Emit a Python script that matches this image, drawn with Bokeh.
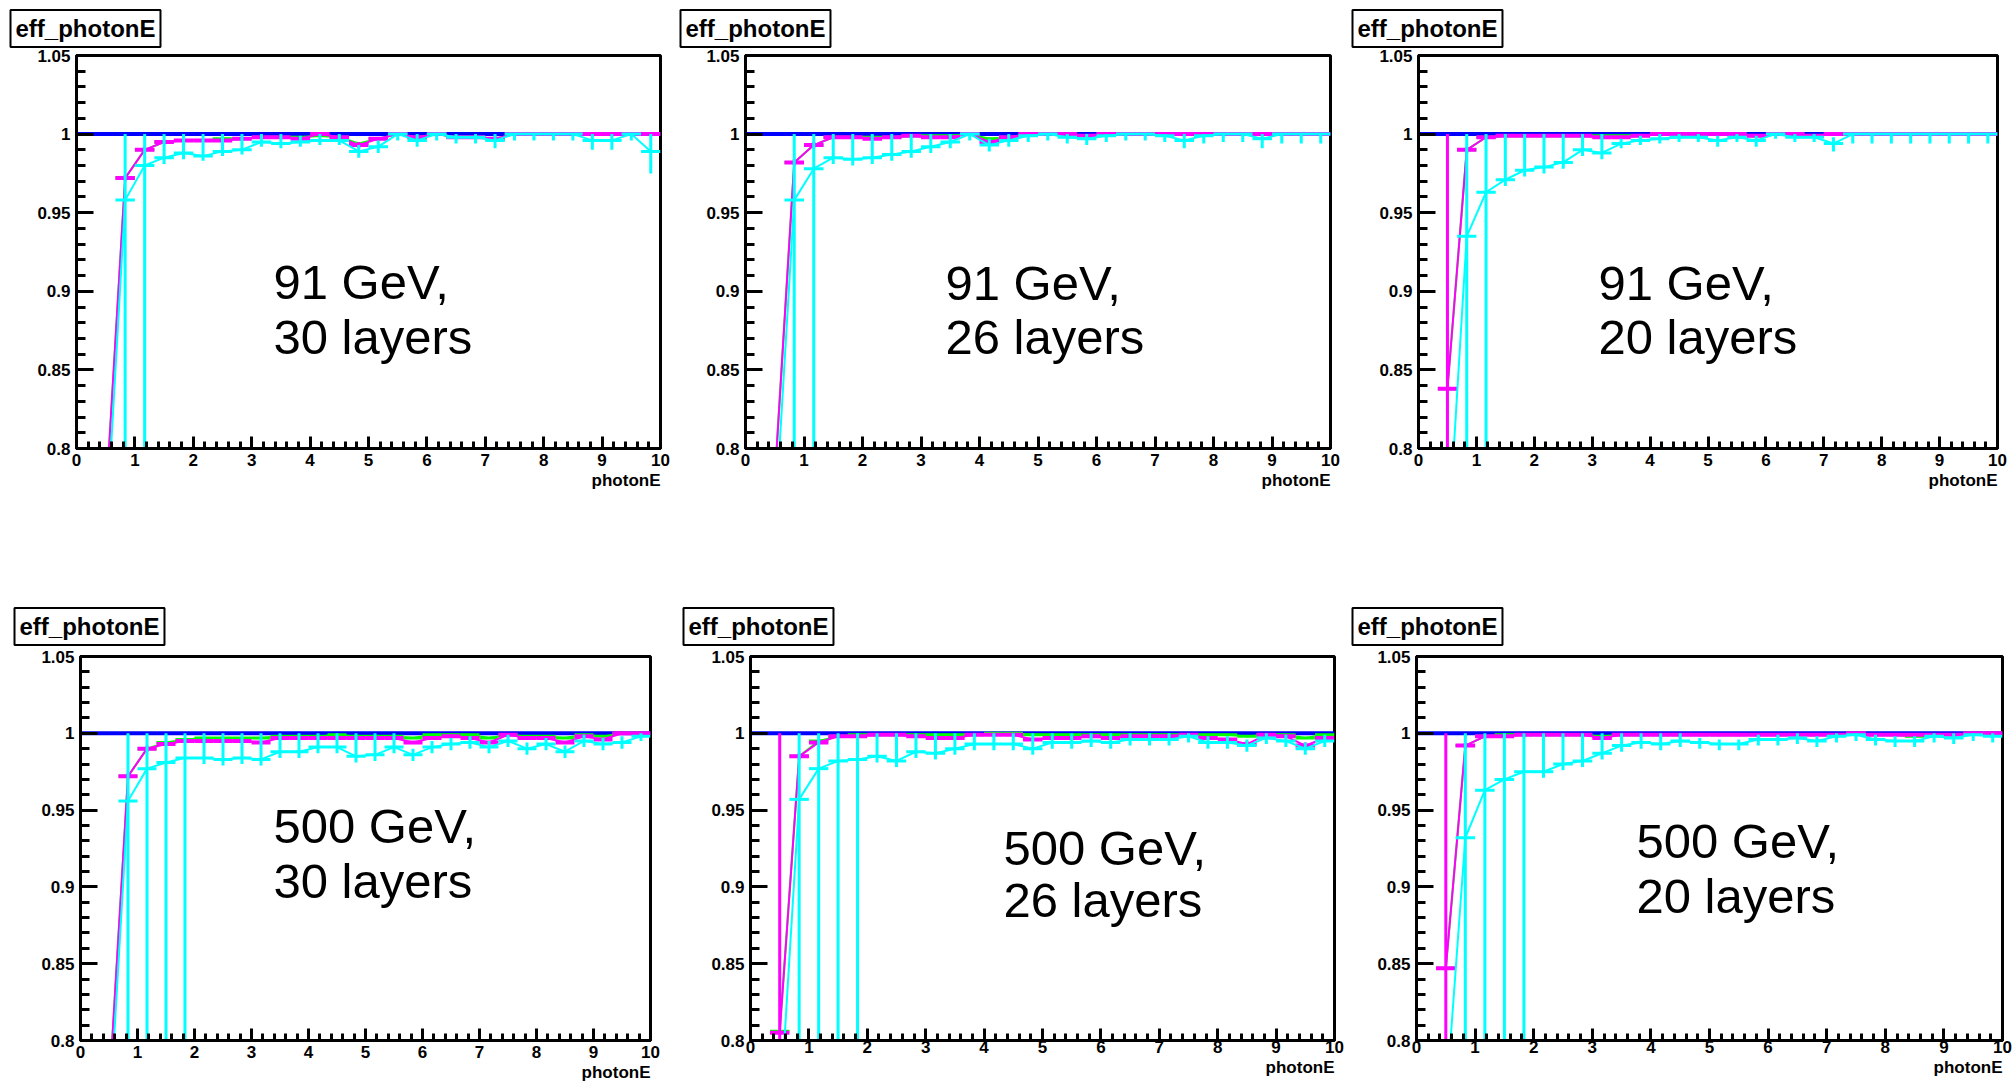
from bokeh.plotting import figure
from bokeh.models import FixedTicker, PrintfTickFormatter, Label, Span, ColumnDataSource, Title
from bokeh.layouts import column, row
from bokeh.embed import file_html
from bokeh.resources import INLINE

# ---------------- data ----------------
BIN_CENTERS = [0.5, 0.833, 1.167, 1.5, 1.833, 2.167, 2.5, 2.833, 3.167, 3.5,
               3.833, 4.167, 4.5, 4.833, 5.167, 5.5, 5.833, 6.167, 6.5, 6.833,
               7.167, 7.5, 7.833, 8.167, 8.5, 8.833, 9.167, 9.5, 9.833]
BIN_HALF_WIDTH = 0.1667
REFERENCE_EFF = 1.0

X_TICKS = [0, 1, 2, 3, 4, 5, 6, 7, 8, 9, 10]
Y_TICKS = [0.8, 0.85, 0.9, 0.95, 1.0, 1.05]

# 91 GeV, 30 layers
MAG_91_30 = [0.765, 0.972, 0.990, 0.995, 0.996, 0.996, 0.996, 0.997, 0.998, 0.998, 0.997, 1.000, 0.998, 0.993, 0.997, 1.000, 0.998, 1.000, 0.998, 0.998, 0.997, 1.000, 1.000, 1.000, 1.000, 1.000, 1.000, 1.000, 1.000]
MAG_ERR_91_30 = [0.0, 0.002, 0.002, 0.001, 0.001, 0.001, 0.001, 0.001, 0.001, 0.001, 0.001, 0.0, 0.001, 0.002, 0.001, 0.0, 0.001, 0.0, 0.001, 0.001, 0.002, 0.0, 0.0, 0.0, 0.0, 0.0, 0.0, 0.0, 0.0]
GRN_91_30 = [0.765, 0.972, 0.990, 0.995, 0.996, 0.996, 0.997, 0.997, 0.998, 0.998, 0.998, 0.999, 0.998, 0.994, 0.997, 1.000, 0.998, 1.000, 0.998, 0.998, 0.997, 1.000, 1.000, 1.000, 1.000, 1.000, 1.000, 1.000, 1.000]
CYA_91_30 = [0.741, 0.958, 0.980, 0.985, 0.988, 0.986, 0.989, 0.990, 0.995, 0.994, 0.995, 0.996, 0.996, 0.989, 0.992, 1.000, 0.996, 1.000, 0.998, 0.998, 0.996, 1.000, 1.000, 1.000, 1.000, 0.996, 0.996, 1.000, 0.989]
CYA_LO_91_30 = [0.0, 0.3, 0.3, 0.004, 0.004, 0.003, 0.003, 0.003, 0.003, 0.003, 0.003, 0.003, 0.003, 0.004, 0.004, 0.004, 0.004, 0.004, 0.004, 0.004, 0.005, 0.004, 0.004, 0.004, 0.004, 0.006, 0.006, 0.004, 0.014]
CYA_HI_91_30 = [0.0, 0.3, 0.3, 0.02, 0.02, 0.02, 0.02, 0.02, 0.02, 0.02, 0.004, 0.004, 0.004, 0.004, 0.004, 0.0, 0.004, 0.0, 0.003, 0.003, 0.004, 0.0, 0.0, 0.0, 0.0, 0.004, 0.004, 0.0, 0.011]

# 91 GeV, 26 layers
MAG_91_26 = [0.780, 0.982, 0.993, 0.998, 0.998, 0.997, 0.998, 0.999, 0.998, 0.998, 1.000, 0.995, 0.998, 1.000, 1.000, 1.000, 0.999, 1.000, 1.000, 1.000, 1.000, 1.000, 1.000, 1.000, 1.000, 1.000, 1.000, 1.000, 1.000]
MAG_ERR_91_26 = [0.0, 0.002, 0.002, 0.001, 0.001, 0.001, 0.001, 0.001, 0.001, 0.001, 0.0, 0.002, 0.001, 0.0, 0.0, 0.0, 0.001, 0.0, 0.0, 0.0, 0.0, 0.0, 0.0, 0.0, 0.0, 0.0, 0.0, 0.0, 0.0]
GRN_91_26 = [0.780, 0.982, 0.993, 0.998, 0.998, 0.998, 0.998, 0.999, 0.999, 0.999, 1.000, 0.997, 0.998, 1.000, 1.000, 1.000, 0.999, 1.000, 1.000, 1.000, 1.000, 1.000, 1.000, 1.000, 1.000, 1.000, 1.000, 1.000, 1.000]
CYA_91_26 = [0.750, 0.958, 0.978, 0.985, 0.984, 0.985, 0.987, 0.989, 0.992, 0.995, 1.000, 0.993, 0.996, 0.999, 1.000, 0.998, 0.997, 0.999, 1.000, 1.000, 0.999, 0.996, 0.999, 1.000, 1.000, 0.997, 1.000, 1.000, 1.000]
CYA_LO_91_26 = [0.0, 0.3, 0.3, 0.004, 0.004, 0.004, 0.004, 0.004, 0.004, 0.004, 0.004, 0.004, 0.004, 0.004, 0.004, 0.004, 0.004, 0.004, 0.004, 0.004, 0.004, 0.005, 0.005, 0.005, 0.005, 0.006, 0.006, 0.006, 0.006]
CYA_HI_91_26 = [0.0, 0.3, 0.3, 0.02, 0.02, 0.02, 0.02, 0.02, 0.02, 0.02, 0.0, 0.004, 0.004, 0.001, 0.0, 0.002, 0.003, 0.001, 0.0, 0.0, 0.001, 0.004, 0.001, 0.0, 0.0, 0.003, 0.0, 0.0, 0.0]

# 91 GeV, 20 layers
MAG_91_20 = [0.838, 0.990, 0.998, 0.999, 0.999, 0.999, 0.999, 0.999, 0.998, 0.998, 0.999, 1.000, 1.000, 1.000, 1.000, 1.000, 0.999, 1.000, 1.000, 0.999, 1.000, 1.000, 1.000, 1.000, 1.000, 1.000, 1.000, 1.000, 1.000]
MAG_ERR_91_20 = [0.3, 0.002, 0.001, 0.001, 0.001, 0.001, 0.001, 0.001, 0.001, 0.001, 0.001, 0.0, 0.0, 0.0, 0.0, 0.0, 0.001, 0.0, 0.0, 0.001, 0.0, 0.0, 0.0, 0.0, 0.0, 0.0, 0.0, 0.0, 0.0]
GRN_91_20 = [0.838, 0.990, 0.998, 0.999, 0.999, 0.999, 0.999, 0.999, 0.999, 0.999, 0.999, 1.000, 1.000, 1.000, 1.000, 1.000, 0.999, 1.000, 1.000, 0.999, 1.000, 1.000, 1.000, 1.000, 1.000, 1.000, 1.000, 1.000, 1.000]
CYA_91_20 = [0.734, 0.935, 0.963, 0.971, 0.977, 0.979, 0.982, 0.990, 0.988, 0.994, 0.996, 0.997, 0.998, 0.998, 0.996, 0.998, 0.996, 1.000, 0.998, 0.998, 0.994, 1.000, 1.000, 1.000, 1.000, 1.000, 1.000, 1.000, 1.000]
CYA_LO_91_20 = [0.0, 0.3, 0.3, 0.004, 0.004, 0.004, 0.004, 0.004, 0.004, 0.003, 0.003, 0.003, 0.003, 0.003, 0.004, 0.003, 0.004, 0.003, 0.003, 0.003, 0.005, 0.006, 0.006, 0.006, 0.006, 0.006, 0.006, 0.006, 0.006]
CYA_HI_91_20 = [0.0, 0.3, 0.3, 0.03, 0.03, 0.03, 0.03, 0.03, 0.03, 0.003, 0.003, 0.003, 0.002, 0.002, 0.003, 0.002, 0.003, 0.0, 0.002, 0.002, 0.004, 0.0, 0.0, 0.0, 0.0, 0.0, 0.0, 0.0, 0.0]

# 500 GeV, 30 layers
MAG_500_30 = [0.765, 0.972, 0.990, 0.993, 0.995, 0.995, 0.995, 0.995, 0.994, 0.997, 0.997, 0.997, 0.997, 0.997, 0.997, 0.997, 0.994, 0.997, 0.998, 0.997, 0.994, 0.999, 0.997, 0.997, 0.994, 0.998, 0.996, 1.000, 1.000]
MAG_ERR_500_30 = [0.0, 0.002, 0.002, 0.001, 0.001, 0.001, 0.001, 0.001, 0.001, 0.001, 0.001, 0.001, 0.001, 0.001, 0.001, 0.001, 0.001, 0.001, 0.001, 0.001, 0.001, 0.001, 0.001, 0.001, 0.001, 0.001, 0.001, 0.0, 0.0]
GRN_500_30 = [0.765, 0.972, 0.990, 0.994, 0.996, 0.997, 0.997, 0.997, 0.997, 0.998, 0.998, 0.998, 0.999, 0.998, 0.998, 0.998, 0.997, 0.999, 0.999, 0.999, 0.997, 0.999, 0.998, 0.998, 0.997, 0.999, 0.998, 1.000, 1.000]
CYA_500_30 = [0.745, 0.956, 0.977, 0.981, 0.984, 0.984, 0.983, 0.984, 0.983, 0.988, 0.988, 0.991, 0.991, 0.985, 0.986, 0.991, 0.986, 0.991, 0.993, 0.994, 0.991, 0.995, 0.990, 0.993, 0.988, 0.995, 0.993, 0.994, 0.998]
CYA_LO_500_30 = [0.0, 0.3, 0.3, 0.3, 0.3, 0.004, 0.004, 0.004, 0.004, 0.004, 0.004, 0.004, 0.004, 0.004, 0.004, 0.004, 0.004, 0.004, 0.004, 0.004, 0.004, 0.004, 0.004, 0.004, 0.004, 0.004, 0.004, 0.004, 0.003]
CYA_HI_500_30 = [0.0, 0.3, 0.3, 0.3, 0.3, 0.02, 0.02, 0.02, 0.02, 0.02, 0.02, 0.02, 0.02, 0.02, 0.02, 0.02, 0.004, 0.004, 0.004, 0.004, 0.004, 0.004, 0.004, 0.004, 0.004, 0.004, 0.004, 0.004, 0.002]

# 500 GeV, 26 layers
MAG_500_26 = [0.805, 0.985, 0.994, 0.998, 0.998, 0.999, 0.999, 0.998, 0.997, 0.997, 0.999, 0.999, 0.999, 0.996, 0.997, 0.997, 0.998, 0.997, 0.998, 0.998, 0.998, 0.999, 0.997, 0.996, 0.993, 0.999, 0.998, 0.992, 0.997]
MAG_ERR_500_26 = [0.3, 0.002, 0.001, 0.001, 0.001, 0.001, 0.001, 0.001, 0.001, 0.001, 0.001, 0.001, 0.001, 0.001, 0.001, 0.001, 0.001, 0.001, 0.001, 0.001, 0.001, 0.001, 0.001, 0.001, 0.002, 0.001, 0.001, 0.002, 0.001]
GRN_500_26 = [0.806, 0.985, 0.995, 0.998, 0.999, 0.999, 0.999, 0.999, 0.999, 0.999, 0.999, 1.000, 1.000, 0.999, 0.999, 0.999, 0.999, 0.999, 0.999, 0.999, 0.999, 0.999, 0.999, 0.999, 0.998, 0.999, 0.999, 0.997, 0.999]
CYA_500_26 = [0.750, 0.957, 0.977, 0.982, 0.983, 0.985, 0.982, 0.988, 0.987, 0.990, 0.993, 0.993, 0.993, 0.990, 0.994, 0.994, 0.995, 0.994, 0.996, 0.996, 0.996, 0.998, 0.994, 0.994, 0.992, 0.997, 0.995, 0.990, 0.995]
CYA_LO_500_26 = [0.0, 0.3, 0.3, 0.3, 0.3, 0.004, 0.004, 0.004, 0.004, 0.004, 0.004, 0.004, 0.004, 0.004, 0.004, 0.004, 0.004, 0.004, 0.004, 0.004, 0.004, 0.004, 0.004, 0.004, 0.004, 0.004, 0.004, 0.004, 0.004]
CYA_HI_500_26 = [0.0, 0.3, 0.3, 0.3, 0.3, 0.02, 0.02, 0.02, 0.02, 0.02, 0.02, 0.02, 0.02, 0.02, 0.02, 0.02, 0.02, 0.02, 0.004, 0.004, 0.004, 0.004, 0.004, 0.004, 0.004, 0.004, 0.004, 0.004, 0.004]

# 500 GeV, 20 layers
MAG_500_20 = [0.847, 0.992, 0.998, 0.998, 0.999, 0.999, 0.999, 0.999, 0.997, 0.999, 0.999, 0.999, 0.999, 0.999, 0.999, 0.999, 0.999, 0.999, 0.999, 0.999, 0.999, 1.000, 0.999, 0.999, 0.999, 0.999, 0.999, 1.000, 1.000]
MAG_ERR_500_20 = [0.3, 0.002, 0.001, 0.001, 0.001, 0.001, 0.001, 0.001, 0.001, 0.001, 0.001, 0.001, 0.001, 0.001, 0.001, 0.001, 0.001, 0.001, 0.001, 0.001, 0.001, 0.0, 0.001, 0.001, 0.001, 0.001, 0.001, 0.0, 0.0]
GRN_500_20 = [0.847, 0.992, 0.998, 0.999, 0.999, 0.999, 0.999, 0.999, 0.998, 0.999, 0.999, 0.999, 0.999, 0.999, 0.999, 0.999, 0.999, 0.999, 0.999, 0.999, 0.999, 1.000, 0.999, 0.999, 0.998, 0.999, 0.999, 1.000, 1.000]
CYA_500_20 = [0.758, 0.932, 0.963, 0.970, 0.975, 0.975, 0.980, 0.982, 0.987, 0.992, 0.994, 0.993, 0.995, 0.994, 0.993, 0.993, 0.996, 0.996, 0.997, 0.995, 0.998, 0.999, 0.996, 0.995, 0.995, 0.998, 0.997, 0.999, 0.998]
CYA_LO_500_20 = [0.0, 0.3, 0.3, 0.3, 0.3, 0.004, 0.004, 0.004, 0.004, 0.004, 0.004, 0.004, 0.004, 0.004, 0.004, 0.004, 0.004, 0.004, 0.004, 0.004, 0.004, 0.004, 0.004, 0.004, 0.004, 0.004, 0.004, 0.004, 0.004]
CYA_HI_500_20 = [0.0, 0.3, 0.3, 0.3, 0.3, 0.03, 0.03, 0.03, 0.03, 0.03, 0.03, 0.03, 0.03, 0.003, 0.003, 0.003, 0.003, 0.003, 0.003, 0.003, 0.003, 0.003, 0.003, 0.003, 0.003, 0.003, 0.003, 0.003, 0.003]

TITLE_TEXT = "eff_photonE"
X_LABEL_TEXT = "photonE"

# ---------------- layout (page pixels) ----------------
COL_X = [0, 672, 1344]
ROW_Y = [0, 545]
CELL_W, CELL_H = 672, 545
TITLE_STANDOFF = [13, 19]   # per row: room above the frame for the title box

# frame = (left, top, right, bottom); title = box left; text = (left, cap-centre line1, cap-centre line2)
# tight = squeeze the space under the x axis (the reference cuts this label at the page edge)
PANELS = [
    dict(col=0, row=0, frame=(76, 52, 660, 449), title=10, tight=False, text=(273, 281, 336),
         lines=("91 GeV,", "30 layers"), data=(MAG_91_30, MAG_ERR_91_30, GRN_91_30, CYA_91_30, CYA_LO_91_30, CYA_HI_91_30)),
    dict(col=1, row=0, frame=(745, 52, 1330, 448), title=680, tight=False, text=(945, 281, 336),
         lines=("91 GeV,", "26 layers"), data=(MAG_91_26, MAG_ERR_91_26, GRN_91_26, CYA_91_26, CYA_LO_91_26, CYA_HI_91_26)),
    dict(col=2, row=0, frame=(1418, 55, 1997, 448), title=1352, tight=False, text=(1598, 282, 336),
         lines=("91 GeV,", "20 layers"), data=(MAG_91_20, MAG_ERR_91_20, GRN_91_20, CYA_91_20, CYA_LO_91_20, CYA_HI_91_20)),
    dict(col=0, row=1, frame=(80, 655, 650, 1040), title=14, tight=False, text=(273, 825, 880),
         lines=("500 GeV,", "30 layers"), data=(MAG_500_30, MAG_ERR_500_30, GRN_500_30, CYA_500_30, CYA_LO_500_30, CYA_HI_500_30)),
    dict(col=1, row=1, frame=(750, 652, 1334, 1046), title=683, tight=True, text=(1003, 848, 902),
         lines=("500 GeV,", "26 layers"), data=(MAG_500_26, MAG_ERR_500_26, GRN_500_26, CYA_500_26, CYA_LO_500_26, CYA_HI_500_26)),
    dict(col=2, row=1, frame=(1416, 656, 2002, 1049), title=1352, tight=True, text=(1636, 845, 901),
         lines=("500 GeV,", "20 layers"), data=(MAG_500_20, MAG_ERR_500_20, GRN_500_20, CYA_500_20, CYA_LO_500_20, CYA_HI_500_20)),
]

MAGENTA, GREEN, CYAN, BLUE = "#ff00ff", "#00ff00", "#00ffff", "#0000ff"
FONT = "Liberation Sans"


def to_data(frame, px, py):
    L, T, R, B = frame
    return (px - L) / (R - L) * 10.0, 0.8 + (B - py) / (B - T) * 0.25


def series_source(y, err_lo, err_hi):
    x0 = [c - BIN_HALF_WIDTH for c in BIN_CENTERS]
    x1 = [c + BIN_HALF_WIDTH for c in BIN_CENTERS]
    ylo = [v - e for v, e in zip(y, err_lo)]
    yhi = [min(REFERENCE_EFF, v + e) for v, e in zip(y, err_hi)]
    return ColumnDataSource(dict(x=BIN_CENTERS, y=y, x0=x0, x1=x1, ylo=ylo, yhi=yhi))


def draw_series(p, src, color, bar_w, err_w, line_w):
    p.line("x", "y", source=src, line_color=color, line_width=line_w)
    p.segment("x0", "y", "x1", "y", source=src, line_color=color, line_width=bar_w)
    p.segment("x", "ylo", "x", "yhi", source=src, line_color=color, line_width=err_w)


def make_panel(spec):
    L, T, R, B = spec["frame"]
    cx, cy = COL_X[spec["col"]], ROW_Y[spec["row"]]
    p = figure(width=CELL_W, height=CELL_H, x_range=(0, 10), y_range=(0.8, 1.05),
               output_backend="svg", toolbar_location=None,
               min_border_left=L - cx, min_border_right=cx + CELL_W - R,
               min_border_top=T - cy, min_border_bottom=cy + CELL_H - B,
               background_fill_color="white", border_fill_color="white",
               outline_line_color="black", outline_line_width=3)
    p.grid.visible = False

    for ax in (p.xaxis[0], p.yaxis[0]):
        ax.axis_line_width = 3
        ax.axis_line_color = "black"
        ax.major_tick_out = 0
        ax.minor_tick_out = 0
        ax.major_tick_line_width = 3
        ax.minor_tick_line_width = 3
        ax.major_label_text_font = FONT
        ax.major_label_text_font_style = "bold"
        ax.major_label_text_font_size = "17px"
        ax.major_label_text_color = "black"
    p.xaxis.ticker = FixedTicker(ticks=X_TICKS, minor_ticks=[i * 0.2 for i in range(51)])
    p.xaxis.major_tick_in = 12
    p.xaxis.minor_tick_in = 7
    p.xaxis.major_label_standoff = 5
    p.yaxis.ticker = FixedTicker(ticks=Y_TICKS, minor_ticks=[0.8 + i * 0.01 for i in range(26)])
    p.yaxis.formatter = PrintfTickFormatter(format="%g")
    p.yaxis.major_tick_in = 17
    p.yaxis.minor_tick_in = 9
    p.yaxis.major_label_standoff = 6

    p.add_layout(Span(location=REFERENCE_EFF, dimension="width", line_color=BLUE,
                      line_width=4, level="underlay"))

    mag, mag_err, grn, cya, cya_lo, cya_hi = spec["data"]
    zeros = [0.0] * len(grn)
    draw_series(p, series_source(grn, zeros, zeros), GREEN, 3, 2, 2)
    draw_series(p, series_source(mag, mag_err, mag_err), MAGENTA, 4, 3, 2)
    draw_series(p, series_source(cya, cya_lo, cya_hi), CYAN, 3, 3, 2)

    # histogram title box (ROOT style), above the frame
    p.add_layout(Title(text=TITLE_TEXT, align="left", vertical_align="top",
                       offset=spec["title"] - L,
                       text_font=FONT, text_font_style="bold", text_font_size="24px",
                       text_color="black",
                       background_fill_color="white", border_line_color="black",
                       border_line_width=2, padding=5,
                       standoff=TITLE_STANDOFF[spec["row"]]), "above")

    # x-axis title, right aligned under the axis
    xl = Title(text=X_LABEL_TEXT, align="right", text_font=FONT, text_color="black",
               text_font_style="bold", text_font_size="17px", standoff=0)
    if spec["tight"]:
        p.xaxis.major_label_standoff = 0
    p.add_layout(xl, "below")

    fr = spec["frame"]
    lx, c1, c2 = spec["text"]
    for txt, cyy in zip(spec["lines"], (c1, c2)):
        dx, dy = to_data(fr, lx, cyy)
        p.add_layout(Label(x=dx, y=dy, text=txt, text_font=FONT, text_font_size="49px",
                           text_align="left", text_baseline="middle", text_color="black"))
    return p


figs = [make_panel(s) for s in PANELS]
layout = column(row(*figs[:3]), row(*figs[3:]))

open("out.html", "w").write(file_html(layout, INLINE))
